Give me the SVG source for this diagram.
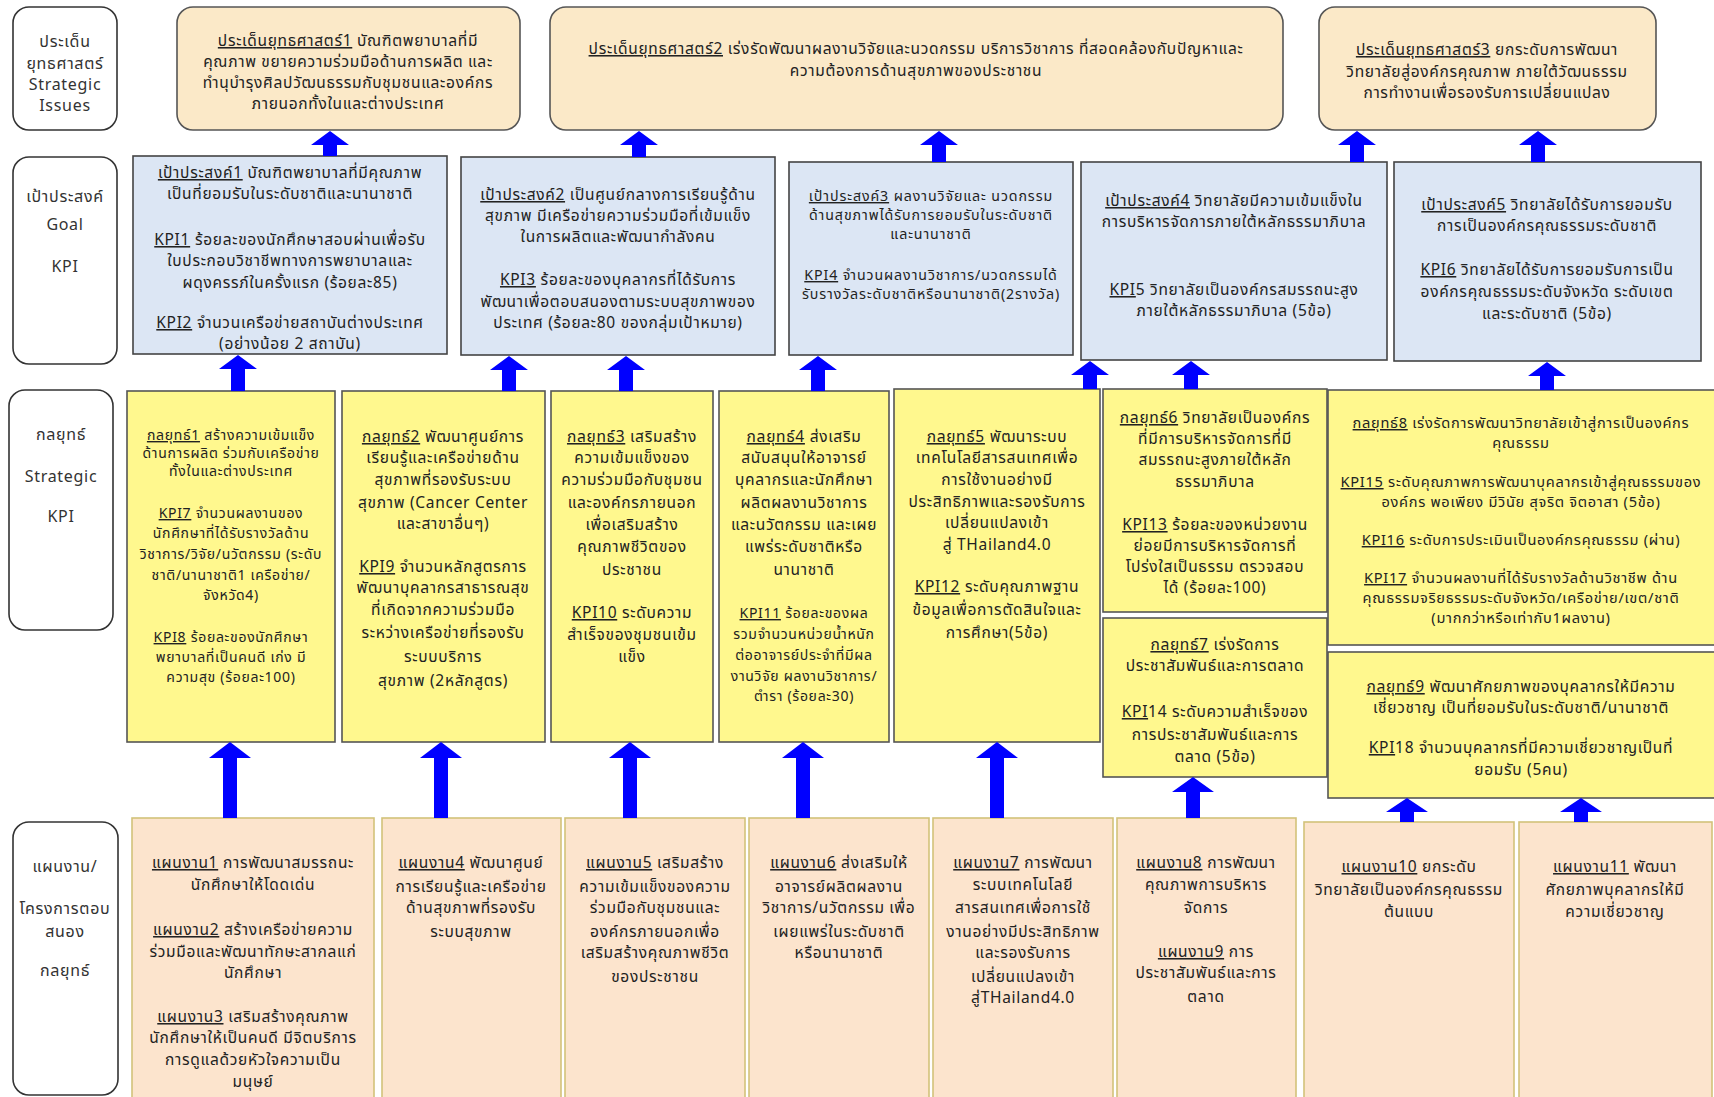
<svg xmlns="http://www.w3.org/2000/svg" width="1714" height="1097" viewBox="0 0 1714 1097">
<style>
text{font-family:Tahoma,"Noto Sans Thai","Noto Sans","DejaVu Sans",sans-serif;font-size:15.5px;letter-spacing:0.7px;fill:#222;text-anchor:middle}
.u{text-decoration:underline}
.lbl{fill:#fff;stroke:#333;stroke-width:1.6}
.iss{fill:#FBE9C8;stroke:#555;stroke-width:1.6}
.goal{fill:#DCE6F4;stroke:#444;stroke-width:1.6}
.str{fill:#FFF88E;stroke:#555;stroke-width:1.6}
.plan{fill:#FCE4CD;stroke:#D2C27A;stroke-width:1.6}
.lt{font-size:16px;fill:#333}
.sm{font-size:14px}
.g3{font-size:14.2px;letter-spacing:0.9px}
.md{font-size:14.6px}
.arr{fill:#0000FF}
</style>
<rect width="1714" height="1097" fill="#fff"/>

<g id="label-issues"><rect class="lbl" x="13" y="7" width="104" height="123" rx="16"/>
<text class="lt" x="65" y="47">ประเด็น</text><text class="lt" x="65" y="69">ยุทธศาสตร์</text><text class="lt" x="65" y="90">Strategic</text><text class="lt" x="65" y="111">Issues</text></g>
<g id="label-goal"><rect class="lbl" x="13" y="157" width="104" height="207" rx="16"/>
<text class="lt" x="65" y="202">เป้าประสงค์</text><text class="lt" x="65" y="230">Goal</text><text class="lt" x="65" y="272">KPI</text></g>
<g id="label-strategy"><rect class="lbl" x="9" y="390" width="104" height="240" rx="16"/>
<text class="lt" x="61" y="440">กลยุทธ์</text><text class="lt" x="61" y="482">Strategic</text><text class="lt" x="61" y="522">KPI</text></g>
<g id="label-plan"><rect class="lbl" x="13" y="822" width="105" height="273" rx="16"/>
<text class="lt" x="65" y="872">แผนงาน/</text><text class="lt" x="65" y="914">โครงการตอบ</text><text class="lt" x="65" y="937">สนอง</text><text class="lt" x="65" y="976">กลยุทธ์</text></g>

<g id="issue1"><rect class="iss" x="177" y="7" width="343" height="123" rx="16"/>
<text x="348" y="46"><tspan class="u">ประเด็นยุทธศาสตร์1</tspan> บัณฑิตพยาบาลที่มี</text>
<text x="348" y="67">คุณภาพ ขยายความร่วมมือด้านการผลิต และ</text>
<text x="348" y="88">ทำนุบำรุงศิลปวัฒนธรรมกับชุมชนและองค์กร</text>
<text x="348" y="109">ภายนอกทั้งในและต่างประเทศ</text></g>
<g id="issue2"><rect class="iss" x="550" y="7" width="733" height="123" rx="16"/>
<text x="916" y="54"><tspan class="u">ประเด็นยุทธศาสตร์2</tspan> เร่งรัดพัฒนาผลงานวิจัยและนวดกรรม บริการวิชาการ ที่สอดคล้องกับปัญหาและ</text>
<text x="916" y="76">ความต้องการด้านสุขภาพของประชาชน</text></g>
<g id="issue3"><rect class="iss" x="1319" y="7" width="337" height="123" rx="16"/>
<text x="1487" y="55"><tspan class="u">ประเด็นยุทธศาสตร์3</tspan> ยกระดับการพัฒนา</text>
<text x="1487" y="77">วิทยาลัยสู่องค์กรคุณภาพ ภายใต้วัฒนธรรม</text>
<text x="1487" y="98">การทำงานเพื่อรองรับการเปลี่ยนแปลง</text></g>

<g id="goal1"><rect class="goal" x="133" y="156" width="314" height="198"/>
<text x="290" y="178"><tspan class="u">เป้าประสงค์1</tspan> บัณฑิตพยาบาลที่มีคุณภาพ</text>
<text x="290" y="199">เป็นที่ยอมรับในระดับชาติและนานาชาติ</text>
<text x="290" y="245"><tspan class="u">KPI1</tspan> ร้อยละของนักศึกษาสอบผ่านเพื่อรับ</text>
<text x="290" y="266">ใบประกอบวิชาชีพทางการพยาบาลและ</text>
<text x="290" y="288">ผดุงครรภ์ในครั้งแรก (ร้อยละ85)</text>
<text x="290" y="328"><tspan class="u">KPI2</tspan> จำนวนเครือข่ายสถาบันต่างประเทศ</text>
<text x="290" y="349">(อย่างน้อย 2 สถาบัน)</text></g>
<g id="goal2"><rect class="goal" x="461" y="157" width="314" height="198"/>
<text x="618" y="200"><tspan class="u">เป้าประสงค์2</tspan> เป็นศูนย์กลางการเรียนรู้ด้าน</text>
<text x="618" y="221">สุขภาพ มีเครือข่ายความร่วมมือที่เข้มแข็ง</text>
<text x="618" y="242">ในการผลิตและพัฒนากำลังคน</text>
<text x="618" y="285"><tspan class="u">KPI3</tspan> ร้อยละของบุคลากรที่ได้รับการ</text>
<text x="618" y="307">พัฒนาเพื่อตอบสนองตามระบบสุขภาพของ</text>
<text x="618" y="328">ประเทศ (ร้อยละ80 ของกลุ่มเป้าหมาย)</text></g>
<g id="goal3"><rect class="goal" x="789" y="162" width="284" height="193"/>
<text class="g3" x="931" y="201"><tspan class="u">เป้าประสงค์3</tspan> ผลงานวิจัยและ นวดกรรม</text>
<text class="g3" x="931" y="220">ด้านสุขภาพได้รับการยอมรับในระดับชาติ</text>
<text class="g3" x="931" y="239">และนานาชาติ</text>
<text class="g3" x="931" y="280"><tspan class="u">KPI4</tspan> จำนวนผลงานวิชาการ/นวดกรรมได้</text>
<text class="g3" x="931" y="299">รับรางวัลระดับชาติหรือนานาชาติ(2รางวัล)</text></g>
<g id="goal4"><rect class="goal" x="1081" y="162" width="306" height="198"/>
<text x="1234" y="206"><tspan class="u">เป้าประสงค์4</tspan> วิทยาลัยมีความเข้มแข็งใน</text>
<text x="1234" y="227">การบริหารจัดการภายใต้หลักธรรมาภิบาล</text>
<text x="1234" y="295"><tspan class="u">KPI</tspan>5 วิทยาลัยเป็นองค์กรสมรรถนะสูง</text>
<text x="1234" y="316">ภายใต้หลักธรรมาภิบาล (5ข้อ)</text></g>
<g id="goal5"><rect class="goal" x="1394" y="162" width="307" height="199"/>
<text x="1547" y="210"><tspan class="u">เป้าประสงค์5</tspan> วิทยาลัยได้รับการยอมรับ</text>
<text x="1547" y="231">การเป็นองค์กรคุณธรรมระดับชาติ</text>
<text x="1547" y="275"><tspan class="u">KPI6</tspan> วิทยาลัยได้รับการยอมรับการเป็น</text>
<text x="1547" y="297">องค์กรคุณธรรมระดับจังหวัด ระดับเขต</text>
<text x="1547" y="319">และระดับชาติ (5ข้อ)</text></g>

<g id="strategy1"><rect class="str" x="127" y="391" width="208" height="351"/>
<text class="sm" x="231" y="440"><tspan class="u">กลยุทธ์1</tspan> สร้างความเข้มแข็ง</text>
<text class="sm" x="231" y="458">ด้านการผลิต ร่วมกับเครือข่าย</text>
<text class="sm" x="231" y="476">ทั้งในและต่างประเทศ</text>
<text class="sm" x="231" y="518"><tspan class="u">KPI7</tspan> จำนวนผลงานของ</text>
<text class="sm" x="231" y="538">นักศึกษาที่ได้รับรางวัลด้าน</text>
<text class="sm" x="231" y="559">วิชาการ/วิจัย/นวัตกรรม (ระดับ</text>
<text class="sm" x="231" y="580">ชาติ/นานาชาติ1 เครือข่าย/</text>
<text class="sm" x="231" y="600">จังหวัด4)</text>
<text class="sm" x="231" y="642"><tspan class="u">KPI8</tspan> ร้อยละของนักศึกษา</text>
<text class="sm" x="231" y="662">พยาบาลที่เป็นคนดี เก่ง มี</text>
<text class="sm" x="231" y="682">ความสุข (ร้อยละ100)</text></g>
<g id="strategy2"><rect class="str" x="342" y="391" width="203" height="351"/>
<text x="443" y="442"><tspan class="u">กลยุทธ์2</tspan> พัฒนาศูนย์การ</text>
<text x="443" y="463">เรียนรู้และเครือข่ายด้าน</text>
<text x="443" y="485">สุขภาพที่รองรับระบบ</text>
<text x="443" y="508">สุขภาพ (Cancer Center</text>
<text x="443" y="529">และสาขาอื่นๆ)</text>
<text x="443" y="572"><tspan class="u">KPI9</tspan> จำนวนหลักสูตรการ</text>
<text x="443" y="593">พัฒนาบุคลากรสาธารณสุข</text>
<text x="443" y="615">ที่เกิดจากความร่วมมือ</text>
<text x="443" y="638">ระหว่างเครือข่ายที่รองรับ</text>
<text x="443" y="662">ระบบบริการ</text>
<text x="443" y="686">สุขภาพ (2หลักสูตร)</text></g>
<g id="strategy3"><rect class="str" x="551" y="391" width="162" height="351"/>
<text x="632" y="442"><tspan class="u">กลยุทธ์3</tspan> เสริมสร้าง</text>
<text x="632" y="463">ความเข้มแข็งของ</text>
<text x="632" y="485">ความร่วมมือกับชุมชน</text>
<text x="632" y="508">และองค์กรภายนอก</text>
<text x="632" y="530">เพื่อเสริมสร้าง</text>
<text x="632" y="552">คุณภาพชีวิตของ</text>
<text x="632" y="575">ประชาชน</text>
<text x="632" y="618"><tspan class="u">KPI10</tspan> ระดับความ</text>
<text x="632" y="640">สำเร็จของชุมชนเข้ม</text>
<text x="632" y="662">แข็ง</text></g>
<g id="strategy4"><rect class="str" x="719" y="391" width="170" height="351"/>
<text x="804" y="442"><tspan class="u">กลยุทธ์4</tspan> ส่งเสริม</text>
<text x="804" y="463">สนับสนุนให้อาจารย์</text>
<text x="804" y="485">บุคลากรและนักศึกษา</text>
<text x="804" y="508">ผลิตผลงานวิชาการ</text>
<text x="804" y="530">และนวัตกรรม และเผย</text>
<text x="804" y="552">แพร่ระดับชาติหรือ</text>
<text x="804" y="575">นานาชาติ</text>
<text class="sm" x="804" y="618"><tspan class="u">KPI11</tspan> ร้อยละของผล</text>
<text class="sm" x="804" y="639">รวมจำนวนหน่วยน้ำหนัก</text>
<text class="sm" x="804" y="660">ต่ออาจารย์ประจำที่มีผล</text>
<text class="sm" x="804" y="681">งานวิจัย ผลงานวิชาการ/</text>
<text class="sm" x="804" y="701">ตำรา (ร้อยละ30)</text></g>
<g id="strategy5"><rect class="str" x="894" y="389" width="206" height="353"/>
<text x="997" y="442"><tspan class="u">กลยุทธ์5</tspan> พัฒนาระบบ</text>
<text x="997" y="463">เทคโนโลยีสารสนเทศเพื่อ</text>
<text x="997" y="485">การใช้งานอย่างมี</text>
<text x="997" y="507">ประสิทธิภาพและรองรับการ</text>
<text x="997" y="528">เปลี่ยนแปลงเข้า</text>
<text x="997" y="550">สู่ THailand4.0</text>
<text x="997" y="592"><tspan class="u">KPI12</tspan> ระดับคุณภาพฐาน</text>
<text x="997" y="615">ข้อมูลเพื่อการตัดสินใจและ</text>
<text x="997" y="638">การศึกษา(5ข้อ)</text></g>
<g id="strategy6"><rect class="str" x="1103" y="389" width="224" height="223"/>
<text x="1215" y="423"><tspan class="u">กลยุทธ์6</tspan> วิทยาลัยเป็นองค์กร</text>
<text x="1215" y="444">ที่มีการบริหารจัดการที่มี</text>
<text x="1215" y="465">สมรรถนะสูงภายใต้หลัก</text>
<text x="1215" y="487">ธรรมาภิบาล</text>
<text x="1215" y="530"><tspan class="u">KPI13</tspan> ร้อยละของหน่วยงาน</text>
<text x="1215" y="551">ย่อยมีการบริหารจัดการที่</text>
<text x="1215" y="572">โปร่งใสเป็นธรรม ตรวจสอบ</text>
<text x="1215" y="593">ได้ (ร้อยละ100)</text></g>
<g id="strategy7"><rect class="str" x="1103" y="618" width="224" height="159"/>
<text x="1215" y="650"><tspan class="u">กลยุทธ์7</tspan> เร่งรัดการ</text>
<text x="1215" y="671">ประชาสัมพันธ์และการตลาด</text>
<text x="1215" y="717"><tspan class="u">KPI</tspan>14 ระดับความสำเร็จของ</text>
<text x="1215" y="740">การประชาสัมพันธ์และการ</text>
<text x="1215" y="762">ตลาด (5ข้อ)</text></g>
<g id="strategy8"><rect class="str" x="1328" y="390" width="390" height="255"/>
<text class="md" x="1521" y="428"><tspan class="u">กลยุทธ์8</tspan> เร่งรัดการพัฒนาวิทยาลัยเข้าสู่การเป็นองค์กร</text>
<text class="md" x="1521" y="448">คุณธรรม</text>
<text class="md" x="1521" y="487"><tspan class="u">KPI15</tspan> ระดับคุณภาพการพัฒนาบุคลากรเข้าสู่คุณธรรมของ</text>
<text class="md" x="1521" y="507">องค์กร พอเพียง มีวินัย สุจริต จิตอาสา (5ข้อ)</text>
<text class="md" x="1521" y="545"><tspan class="u">KPI16</tspan> ระดับการประเมินเป็นองค์กรคุณธรรม (ผ่าน)</text>
<text class="md" x="1521" y="583"><tspan class="u">KPI17</tspan> จำนวนผลงานที่ได้รับรางวัลด้านวิชาชีพ ด้าน</text>
<text class="md" x="1521" y="603">คุณธรรมจริยธรรมระดับจังหวัด/เครือข่าย/เขต/ชาติ</text>
<text class="md" x="1521" y="623">(มากกว่าหรือเท่ากับ1ผลงาน)</text></g>
<g id="strategy9"><rect class="str" x="1328" y="652" width="390" height="146"/>
<text x="1521" y="692"><tspan class="u">กลยุทธ์9</tspan> พัฒนาศักยภาพของบุคลากรให้มีความ</text>
<text x="1521" y="713">เชี่ยวชาญ เป็นที่ยอมรับในระดับชาติ/นานาชาติ</text>
<text x="1521" y="753"><tspan class="u">KPI</tspan>18 จำนวนบุคลากรที่มีความเชี่ยวชาญเป็นที่</text>
<text x="1521" y="775">ยอมรับ (5คน)</text></g>

<g id="plan1"><rect class="plan" x="132" y="818" width="242" height="284"/>
<text x="253" y="868"><tspan class="u">แผนงาน1</tspan> การพัฒนาสมรรถนะ</text>
<text x="253" y="890">นักศึกษาให้โดดเด่น</text>
<text x="253" y="935"><tspan class="u">แผนงาน2</tspan> สร้างเครือข่ายความ</text>
<text x="253" y="957">ร่วมมือและพัฒนาทักษะสากลแก่</text>
<text x="253" y="978">นักศึกษา</text>
<text x="253" y="1022"><tspan class="u">แผนงาน3</tspan> เสริมสร้างคุณภาพ</text>
<text x="253" y="1043">นักศึกษาให้เป็นคนดี มีจิตบริการ</text>
<text x="253" y="1065">การดูแลด้วยหัวใจความเป็น</text>
<text x="253" y="1087">มนุษย์</text></g>
<g id="plan2"><rect class="plan" x="382" y="818" width="179" height="284"/>
<text x="471" y="868"><tspan class="u">แผนงาน4</tspan> พัฒนาศูนย์</text>
<text x="471" y="892">การเรียนรู้และเครือข่าย</text>
<text x="471" y="913">ด้านสุขภาพที่รองรับ</text>
<text x="471" y="937">ระบบสุขภาพ</text></g>
<g id="plan3"><rect class="plan" x="565" y="818" width="180" height="284"/>
<text x="655" y="868"><tspan class="u">แผนงาน5</tspan> เสริมสร้าง</text>
<text x="655" y="892">ความเข้มแข็งของความ</text>
<text x="655" y="913">ร่วมมือกับชุมชนและ</text>
<text x="655" y="937">องค์กรภายนอกเพื่อ</text>
<text x="655" y="958">เสริมสร้างคุณภาพชีวิต</text>
<text x="655" y="982">ของประชาชน</text></g>
<g id="plan4"><rect class="plan" x="749" y="818" width="180" height="284"/>
<text x="839" y="868"><tspan class="u">แผนงาน6</tspan> ส่งเสริมให้</text>
<text x="839" y="892">อาจารย์ผลิตผลงาน</text>
<text x="839" y="913">วิชาการ/นวัตกรรม เพื่อ</text>
<text x="839" y="937">เผยแพร่ในระดับชาติ</text>
<text x="839" y="958">หรือนานาชาติ</text></g>
<g id="plan5"><rect class="plan" x="933" y="818" width="180" height="284"/>
<text x="1023" y="868"><tspan class="u">แผนงาน7</tspan> การพัฒนา</text>
<text x="1023" y="890">ระบบเทคโนโลยี</text>
<text x="1023" y="913">สารสนเทศเพื่อการใช้</text>
<text x="1023" y="937">งานอย่างมีประสิทธิภาพ</text>
<text x="1023" y="958">และรองรับการ</text>
<text x="1023" y="982">เปลี่ยนแปลงเข้า</text>
<text x="1023" y="1003">สู่THailand4.0</text></g>
<g id="plan6"><rect class="plan" x="1117" y="818" width="179" height="284"/>
<text x="1206" y="868"><tspan class="u">แผนงาน8</tspan> การพัฒนา</text>
<text x="1206" y="890">คุณภาพการบริหาร</text>
<text x="1206" y="913">จัดการ</text>
<text x="1206" y="957"><tspan class="u">แผนงาน9</tspan> การ</text>
<text x="1206" y="978">ประชาสัมพันธ์และการ</text>
<text x="1206" y="1002">ตลาด</text></g>
<g id="plan7"><rect class="plan" x="1304" y="822" width="210" height="280"/>
<text x="1409" y="872"><tspan class="u">แผนงาน10</tspan> ยกระดับ</text>
<text x="1409" y="895">วิทยาลัยเป็นองค์กรคุณธรรม</text>
<text x="1409" y="917">ต้นแบบ</text></g>
<g id="plan8"><rect class="plan" x="1519" y="822" width="193" height="280"/>
<text x="1615" y="872"><tspan class="u">แผนงาน11</tspan> พัฒนา</text>
<text x="1615" y="895">ศักยภาพบุคลากรให้มี</text>
<text x="1615" y="917">ความเชี่ยวชาญ</text></g>

<g id="connectors" class="arr">
<polygon points="323,156 323,145 311,145 330,131 349,145 337,145 337,156"/>
<polygon points="632,157 632,145 620,145 639,131 658,145 646,145 646,157"/>
<polygon points="932,162 932,145 920,145 939,131 958,145 946,145 946,162"/>
<polygon points="1350,162 1350,145 1338,145 1357,131 1376,145 1364,145 1364,162"/>
<polygon points="1531,162 1531,145 1519,145 1538,131 1557,145 1545,145 1545,162"/>

<polygon points="231,391 231,369 219,369 238,355 257,369 245,369 245,391"/>
<polygon points="502,391 502,370 490,370 509,356 528,370 516,370 516,391"/>
<polygon points="619,391 619,370 607,370 626,356 645,370 633,370 633,391"/>
<polygon points="811,391 811,370 799,370 818,356 837,370 825,370 825,391"/>
<polygon points="1083,389 1083,375 1071,375 1090,361 1109,375 1097,375 1097,389"/>
<polygon points="1184,389 1184,375 1172,375 1191,361 1210,375 1198,375 1198,389"/>
<polygon points="1540,390 1540,376 1528,376 1547,362 1566,376 1554,376 1554,390"/>

<polygon points="223,818 223,758 209,758 230,742 251,758 237,758 237,818"/>
<polygon points="434,818 434,758 420,758 441,742 462,758 448,758 448,818"/>
<polygon points="623,818 623,758 609,758 630,742 651,758 637,758 637,818"/>
<polygon points="796,818 796,758 782,758 803,742 824,758 810,758 810,818"/>
<polygon points="990,818 990,758 976,758 997,742 1018,758 1004,758 1004,818"/>
<polygon points="1186,818 1186,792 1172,792 1193,777 1214,792 1200,792 1200,818"/>
<polygon points="1400,822 1400,812 1386,812 1407,798 1428,812 1414,812 1414,822"/>
<polygon points="1574,822 1574,812 1560,812 1581,798 1602,812 1588,812 1588,822"/>
</g>
</svg>
